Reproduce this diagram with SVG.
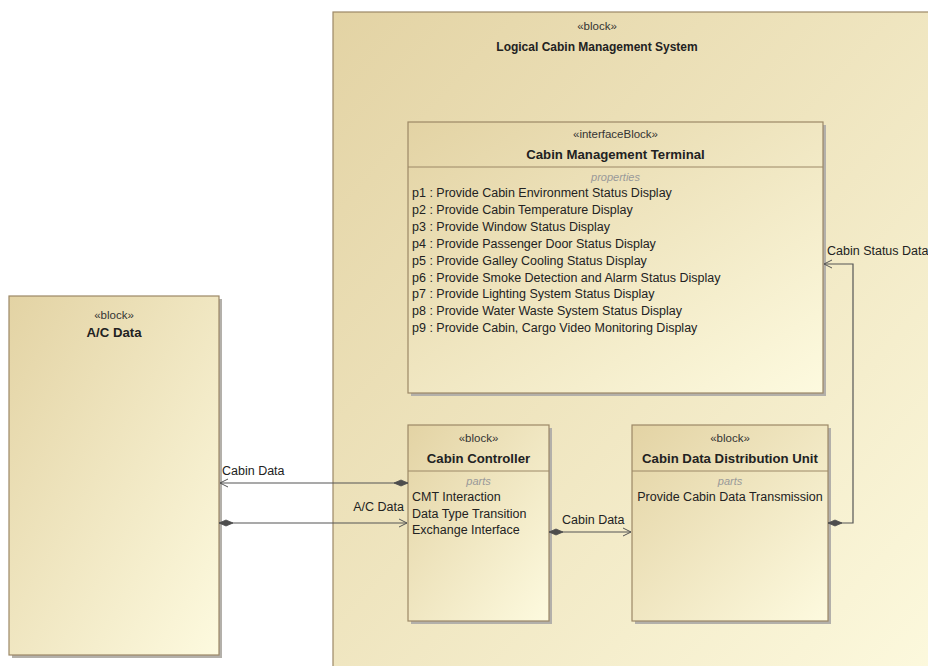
<svg xmlns="http://www.w3.org/2000/svg" width="928" height="666" viewBox="0 0 928 666">
<defs>
<linearGradient id="fillG" x1="0" y1="0" x2="1" y2="1">
<stop offset="0" stop-color="#E3D3A4"/>
<stop offset="1" stop-color="#FDFADF"/>
</linearGradient>
<marker id="diamond" markerUnits="userSpaceOnUse" markerWidth="16" markerHeight="8" refX="0" refY="3.5" orient="auto" viewBox="0 0 16 7">
<path d="M0,3.5 L7,0.5 L14,3.5 L7,6.5 Z" fill="#4D4D4D" stroke="#4D4D4D" stroke-width="0.8"/>
</marker>
<marker id="arrow" markerUnits="userSpaceOnUse" markerWidth="10" markerHeight="10" refX="8" refY="4.5" orient="auto" viewBox="0 0 10 9">
<path d="M0,0.5 L8,4.5 L0,8.5" fill="none" stroke="#555" stroke-width="1"/>
</marker>
</defs>
<style>
.box{fill:url(#fillG);stroke:#9C8866;stroke-width:1.2}
.shadow{fill:#B3B0AA}
.sep{stroke:#9C8866;stroke-width:1}
text{font-family:"Liberation Sans",Arial,sans-serif;font-size:12.5px;fill:#222}
.st{font-size:11.5px;fill:#333}
.name{font-weight:bold;font-size:13.2px}
.outer{font-size:12px}
.comp{font-style:italic;font-size:11px;fill:#999}
.c{text-anchor:middle}
.conn{fill:none;stroke:#555;stroke-width:1.2}
.lbl{font-size:12.5px;fill:#222}
</style>
<rect width="928" height="666" fill="#FFFFFF"/>

<g id="logical-cabin-management-system">
<rect class="box" x="333" y="12" width="620" height="680"/>
<text class="st c" x="597" y="30">«block»</text>
<text class="name outer c" x="597" y="51">Logical Cabin Management System</text>
</g>

<g id="ac-data">
<rect class="shadow" x="12" y="299" width="210" height="359"/>
<rect class="box" x="9" y="296" width="210" height="359"/>
<text class="st c" x="114" y="319">«block»</text>
<text class="name c" x="114" y="337">A/C Data</text>
</g>

<g id="cabin-management-terminal">
<rect class="shadow" x="411" y="125" width="415" height="271"/>
<rect class="box" x="408" y="122" width="415" height="271"/>
<line class="sep" x1="408" y1="167" x2="823" y2="167"/>
<text class="st c" x="615.5" y="138">«interfaceBlock»</text>
<text class="name c" x="615.5" y="159">Cabin Management Terminal</text>
<text class="comp c" x="615.5" y="181">properties</text>
<text x="412" y="197">p1 : Provide Cabin Environment Status Display</text>
<text x="412" y="214">p2 : Provide Cabin Temperature Display</text>
<text x="412" y="231">p3 : Provide Window Status Display</text>
<text x="412" y="248">p4 : Provide Passenger Door Status Display</text>
<text x="412" y="265">p5 : Provide Galley Cooling Status Display</text>
<text x="412" y="282">p6 : Provide Smoke Detection and Alarm Status Display</text>
<text x="412" y="298">p7 : Provide Lighting System Status Display</text>
<text x="412" y="315">p8 : Provide Water Waste System Status Display</text>
<text x="412" y="332">p9 : Provide Cabin, Cargo Video Monitoring Display</text>
</g>

<g id="cabin-controller">
<rect class="shadow" x="411" y="428" width="141" height="196"/>
<rect class="box" x="408" y="425" width="141" height="196"/>
<line class="sep" x1="408" y1="471" x2="549" y2="471"/>
<text class="st c" x="478.5" y="442">«block»</text>
<text class="name c" x="478.5" y="463">Cabin Controller</text>
<text class="comp c" x="478.5" y="485">parts</text>
<text x="412" y="501">CMT Interaction</text>
<text x="412" y="518">Data Type Transition</text>
<text x="412" y="534">Exchange Interface</text>
</g>

<g id="cabin-data-distribution-unit">
<rect class="shadow" x="635" y="428" width="196" height="196"/>
<rect class="box" x="632" y="425" width="196" height="196"/>
<line class="sep" x1="632" y1="471" x2="828" y2="471"/>
<text class="st c" x="730" y="442">«block»</text>
<text class="name c" x="730" y="463">Cabin Data Distribution Unit</text>
<text class="comp c" x="730" y="485">parts</text>
<text class="c" x="730" y="501">Provide Cabin Data Transmission</text>
</g>

<g id="connectors">
<path class="conn" d="M408,483 H220" marker-start="url(#diamond)" marker-end="url(#arrow)"/>
<text class="lbl" x="222" y="475">Cabin Data</text>
<path class="conn" d="M219,523 H407" marker-start="url(#diamond)" marker-end="url(#arrow)"/>
<text class="lbl" x="404" y="511" text-anchor="end">A/C Data</text>
<path class="conn" d="M549,532 H631" marker-start="url(#diamond)" marker-end="url(#arrow)"/>
<text class="lbl" x="562" y="524">Cabin Data</text>
<path class="conn" d="M828,523 H853 V264 H824" marker-start="url(#diamond)" marker-end="url(#arrow)"/>
<text class="lbl" x="827" y="255">Cabin Status Data</text>
</g>
</svg>
